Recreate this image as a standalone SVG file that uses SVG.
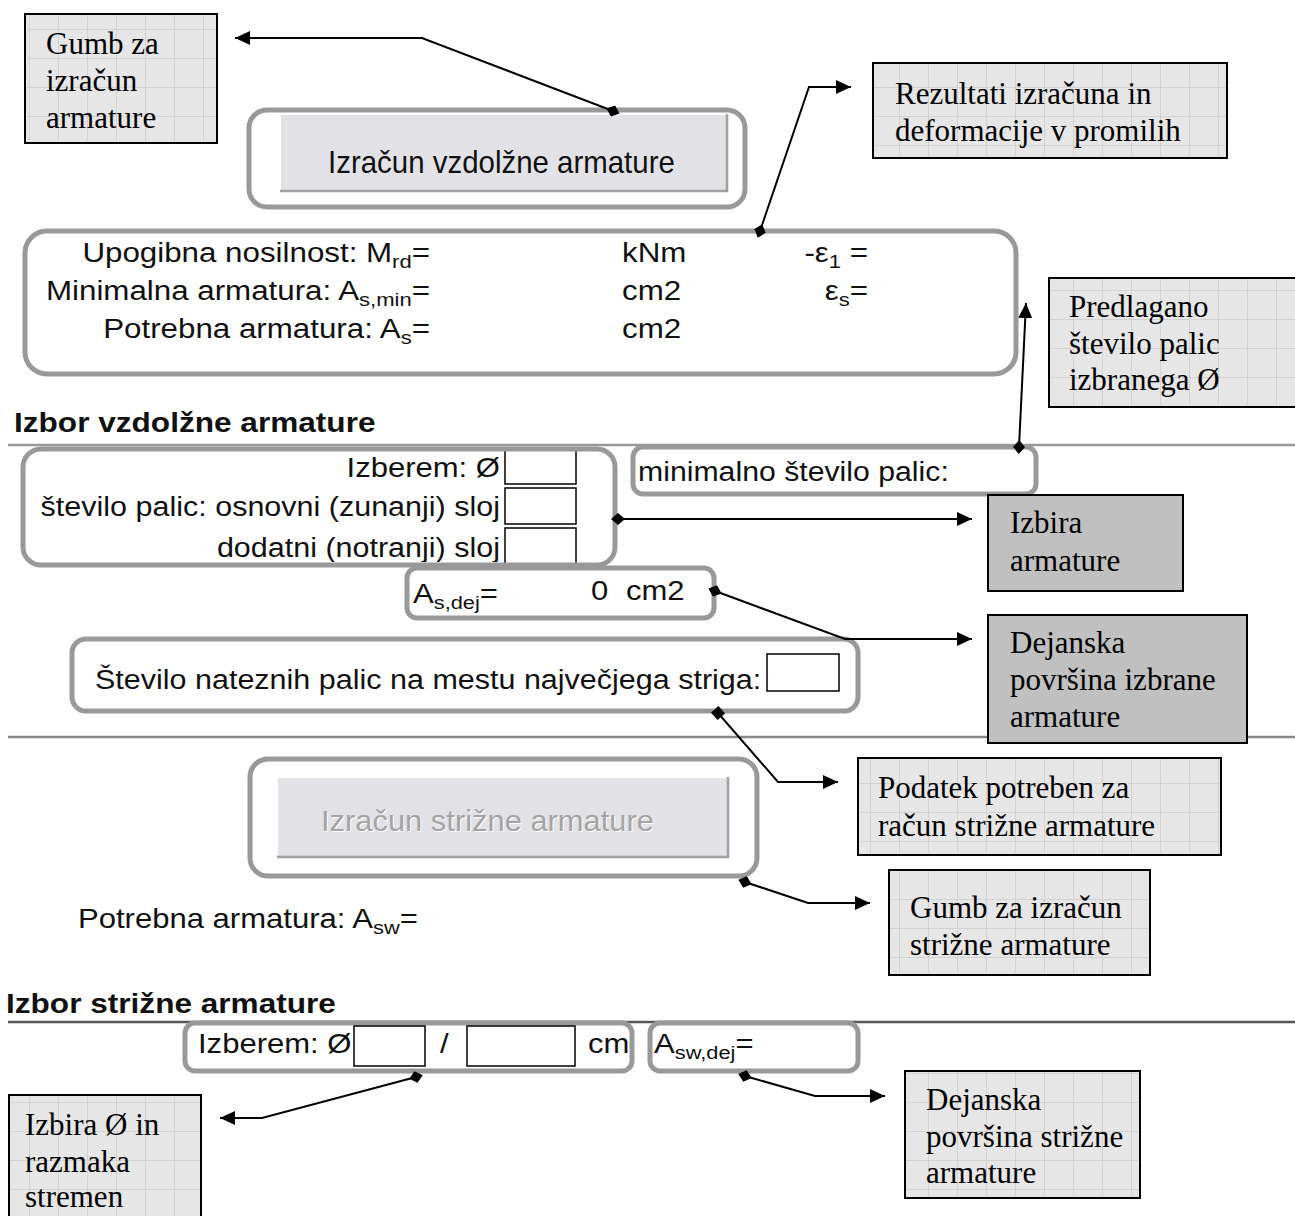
<svg xmlns="http://www.w3.org/2000/svg" width="1295" height="1216" viewBox="0 0 1295 1216">
<style>
.ui{font-family:"Liberation Sans",Arial,sans-serif;font-size:27px;fill:#111}
.hd{font-family:"Liberation Sans",Arial,sans-serif;font-size:27px;font-weight:bold;fill:#111}
.co{font-family:"Liberation Serif","Times New Roman",serif;font-size:31px;fill:#000}
.btn1{font-family:"Liberation Sans",Arial,sans-serif;font-size:31px;fill:#111}
.btn2{font-family:"Liberation Sans",Arial,sans-serif;font-size:30px;fill:#a4a4a4}
.btn2s{font-family:"Liberation Sans",Arial,sans-serif;font-size:30px;fill:#fff}
.frame{fill:#fff;stroke:#999;stroke-width:5}
.inp{fill:#fff;stroke:#000;stroke-width:1.5}
.callout{fill:url(#grid);stroke:#000;stroke-width:2}
.callout2{fill:#c0c0c0;stroke:#000;stroke-width:2}
.conn{fill:none;stroke:#000;stroke-width:2}
.rule{stroke-width:2.5}
</style>
<defs>
<pattern id="grid" width="29" height="29" patternUnits="userSpaceOnUse">
<rect width="29" height="29" fill="#e6e6e6"/>
<path d="M0 0.5H29M0.5 0V29" stroke="#d2d2d2" stroke-width="1"/>
</pattern>
<marker id="arr" markerUnits="userSpaceOnUse" markerWidth="16" markerHeight="14" refX="15" refY="7" orient="auto">
<path d="M0 0L15 7L0 14z" fill="#000"/>
</marker>
<marker id="dia" markerUnits="userSpaceOnUse" markerWidth="14" markerHeight="12" refX="7" refY="6" orient="auto">
<path d="M0 6L7 0L14 6L7 12z" fill="#000"/>
</marker>
<marker id="sq" markerUnits="userSpaceOnUse" markerWidth="12" markerHeight="12" refX="6" refY="6" orient="auto">
<rect x="1" y="1" width="10" height="10" fill="#000"/>
</marker>
<clipPath id="selclip"><rect x="23" y="449" width="592" height="113"/></clipPath>
</defs>
<rect width="1295" height="1216" fill="#fff"/>

<g id="rules">
<line class="rule" x1="8" y1="445" x2="1295" y2="445" stroke="#999"/>
<line class="rule" x1="8" y1="737" x2="1295" y2="737" stroke="#888" stroke-width="3"/>
<line class="rule" x1="8" y1="1022" x2="1295" y2="1022" stroke="#555"/>
</g>

<g id="btn-vzdolzne">
<rect class="frame" x="249" y="110" width="496" height="97" rx="18"/>
<rect x="280" y="114" width="447" height="78" fill="#e1e1e6"/>
<path d="M280 192V114H727" fill="none" stroke="#fff" stroke-width="2"/>
<path d="M280 191H727V114" fill="none" stroke="#a0a0a0" stroke-width="2.5"/>
<text class="btn1" transform="matrix(0.95 0 0 1 328 173)">Izračun vzdolžne armature</text>
</g>

<g id="results">
<rect class="frame" x="25" y="231" width="991" height="143" rx="22"/>
<text class="ui" text-anchor="end" transform="matrix(1.16 0 0 1 430 262)">Upogibna nosilnost: M<tspan font-size="19" dy="6">rd</tspan><tspan dy="-6">=</tspan></text>
<text class="ui" text-anchor="end" transform="matrix(1.16 0 0 1 430 300)">Minimalna armatura: A<tspan font-size="19" dy="6">s,min</tspan><tspan dy="-6">=</tspan></text>
<text class="ui" text-anchor="end" transform="matrix(1.16 0 0 1 430 338)">Potrebna armatura: A<tspan font-size="19" dy="6">s</tspan><tspan dy="-6">=</tspan></text>
<text class="ui" transform="matrix(1.16 0 0 1 622 262)">kNm</text>
<text class="ui" transform="matrix(1.16 0 0 1 622 300)">cm2</text>
<text class="ui" transform="matrix(1.16 0 0 1 622 338)">cm2</text>
<text class="ui" text-anchor="end" transform="matrix(1.16 0 0 1 868 262)">-ε<tspan font-size="19" dy="6">1</tspan><tspan dy="-6"> =</tspan></text>
<text class="ui" text-anchor="end" transform="matrix(1.16 0 0 1 868 300)">ε<tspan font-size="19" dy="6">s</tspan><tspan dy="-6">=</tspan></text>
</g>

<g id="heading-vzdolzne">
<text class="hd" transform="matrix(1.17 0 0 1 14 432)">Izbor vzdolžne armature</text>
</g>

<g id="selection">
<rect class="inp" x="505" y="450" width="71" height="34"/>
<rect class="inp" x="505" y="488" width="71" height="36"/>
<rect class="inp" x="505" y="528" width="71" height="40"/>
<g clip-path="url(#selclip)">
<text class="ui" text-anchor="end" transform="matrix(1.15 0 0 1 500 477)">Izberem: Ø</text>
<text class="ui" text-anchor="end" transform="matrix(1.13 0 0 1 500 516)">število palic: osnovni (zunanji) sloj</text>
<text class="ui" text-anchor="end" transform="matrix(1.13 0 0 1 500 557)">dodatni (notranji) sloj</text>
</g>
<rect x="23" y="449" width="592" height="116" rx="18" fill="none" stroke="#999" stroke-width="5"/>
</g>

<g id="min-palic">
<rect class="frame" x="633" y="447" width="403" height="47" rx="10"/>
<text class="ui" transform="matrix(1.12 0 0 1 638 481)">minimalno število palic:</text>
</g>

<g id="as-dej">
<rect class="frame" x="407" y="568" width="307" height="50" rx="10"/>
<text class="ui" transform="matrix(1.15 0 0 1 413 603)">A<tspan font-size="19" dy="6">s,dej</tspan><tspan dy="-6">=</tspan></text>
<text class="ui" transform="matrix(1.15 0 0 1 591 600)">0</text>
<text class="ui" transform="matrix(1.15 0 0 1 626 600)">cm2</text>
</g>

<g id="shear-bars">
<rect class="frame" x="72" y="639" width="786" height="72" rx="14"/>
<text class="ui" transform="matrix(1.13 0 0 1 95 689)">Število nateznih palic na mestu največjega striga:</text>
<rect class="inp" x="767" y="654" width="72" height="37"/>
</g>

<g id="btn-strizne">
<rect class="frame" x="250" y="759" width="507" height="117" rx="18"/>
<rect x="277" y="777" width="451" height="81" fill="#e1e1e6"/>
<path d="M277 858V777H728" fill="none" stroke="#fff" stroke-width="2"/>
<path d="M277 857H728V777" fill="none" stroke="#a0a0a0" stroke-width="2.5"/>
<text class="btn2s" transform="matrix(1.03 0 0 1 322 832)">Izračun strižne armature</text>
<text class="btn2" transform="matrix(1.03 0 0 1 321 831)">Izračun strižne armature</text>
</g>

<g id="asw-text">
<text class="ui" transform="matrix(1.15 0 0 1 78 928)">Potrebna armatura: A<tspan font-size="19" dy="6">sw</tspan><tspan dy="-6">=</tspan></text>
</g>

<g id="heading-strizne">
<text class="hd" transform="matrix(1.17 0 0 1 6 1013)">Izbor strižne armature</text>
</g>

<g id="shear-select">
<rect class="frame" x="185" y="1023" width="447" height="48" rx="10"/>
<text class="ui" transform="matrix(1.15 0 0 1 198 1053)">Izberem: Ø</text>
<rect class="inp" x="354" y="1026" width="71" height="40"/>
<text class="ui" transform="matrix(1.15 0 0 1 440 1053)">/</text>
<rect class="inp" x="467" y="1026" width="108" height="40"/>
<text class="ui" transform="matrix(1.15 0 0 1 588 1053)">cm</text>
</g>

<g id="asw-dej">
<rect class="frame" x="650" y="1023" width="208" height="48" rx="10"/>
<text class="ui" transform="matrix(1.15 0 0 1 654 1053)">A<tspan font-size="19" dy="6">sw,dej</tspan><tspan dy="-6">=</tspan></text>
</g>

<g id="connectors">
<path class="conn" d="M613 111L422 38L235 38" marker-start="url(#dia)" marker-end="url(#arr)"/>
<path class="conn" d="M760 231L809 87L851 87" marker-start="url(#dia)" marker-end="url(#arr)"/>
<path class="conn" d="M1019 447L1026 303" marker-start="url(#dia)" marker-end="url(#arr)"/>
<path class="conn" d="M618 519L972 519" marker-start="url(#dia)" marker-end="url(#arr)"/>
<path class="conn" d="M715 591L845 639L972 639" marker-start="url(#dia)" marker-end="url(#arr)"/>
<path class="conn" d="M718 713L778 782L838 782" marker-start="url(#sq)" marker-end="url(#arr)"/>
<path class="conn" d="M745 882L808 903L870 903" marker-start="url(#dia)" marker-end="url(#arr)"/>
<path class="conn" d="M416 1077L262 1118L220 1118" marker-start="url(#dia)" marker-end="url(#arr)"/>
<path class="conn" d="M745 1076L815 1096L885 1096" marker-start="url(#dia)" marker-end="url(#arr)"/>
</g>

<g id="c-gumb">
<rect class="callout" x="25" y="14" width="192" height="129"/>
<text class="co" x="46" y="54">Gumb za</text>
<text class="co" x="46" y="91">izračun</text>
<text class="co" x="46" y="128">armature</text>
</g>
<g id="c-rezultati">
<rect class="callout" x="873" y="63" width="354" height="95"/>
<text class="co" x="895" y="104">Rezultati izračuna in</text>
<text class="co" x="895" y="141">deformacije v promilih</text>
</g>
<g id="c-predlagano">
<rect class="callout" x="1049" y="278" width="250" height="129"/>
<text class="co" x="1069" y="317">Predlagano</text>
<text class="co" x="1069" y="354">število palic</text>
<text class="co" x="1069" y="390">izbranega Ø</text>
</g>
<g id="c-izbira">
<rect class="callout2" x="988" y="495" width="195" height="96"/>
<text class="co" x="1010" y="533">Izbira</text>
<text class="co" x="1010" y="571">armature</text>
</g>
<g id="c-dejanska">
<rect class="callout2" x="988" y="615" width="259" height="128"/>
<text class="co" x="1010" y="653">Dejanska</text>
<text class="co" x="1010" y="690">površina izbrane</text>
<text class="co" x="1010" y="727">armature</text>
</g>
<g id="c-podatek">
<rect class="callout" x="858" y="758" width="363" height="97"/>
<text class="co" x="878" y="798">Podatek potreben za</text>
<text class="co" x="878" y="836">račun strižne armature</text>
</g>
<g id="c-gumb-strizne">
<rect class="callout" x="889" y="870" width="261" height="105"/>
<text class="co" x="910" y="918">Gumb za izračun</text>
<text class="co" x="910" y="955">strižne armature</text>
</g>
<g id="c-dejanska-strizne">
<rect class="callout" x="905" y="1071" width="235" height="127"/>
<text class="co" x="926" y="1110">Dejanska</text>
<text class="co" x="926" y="1147">površina strižne</text>
<text class="co" x="926" y="1183">armature</text>
</g>
<g id="c-izbira-stremen">
<rect class="callout" x="9" y="1095" width="192" height="130"/>
<text class="co" x="25" y="1135">Izbira Ø in</text>
<text class="co" x="25" y="1172">razmaka</text>
<text class="co" x="25" y="1207">stremen</text>
</g>
</svg>
